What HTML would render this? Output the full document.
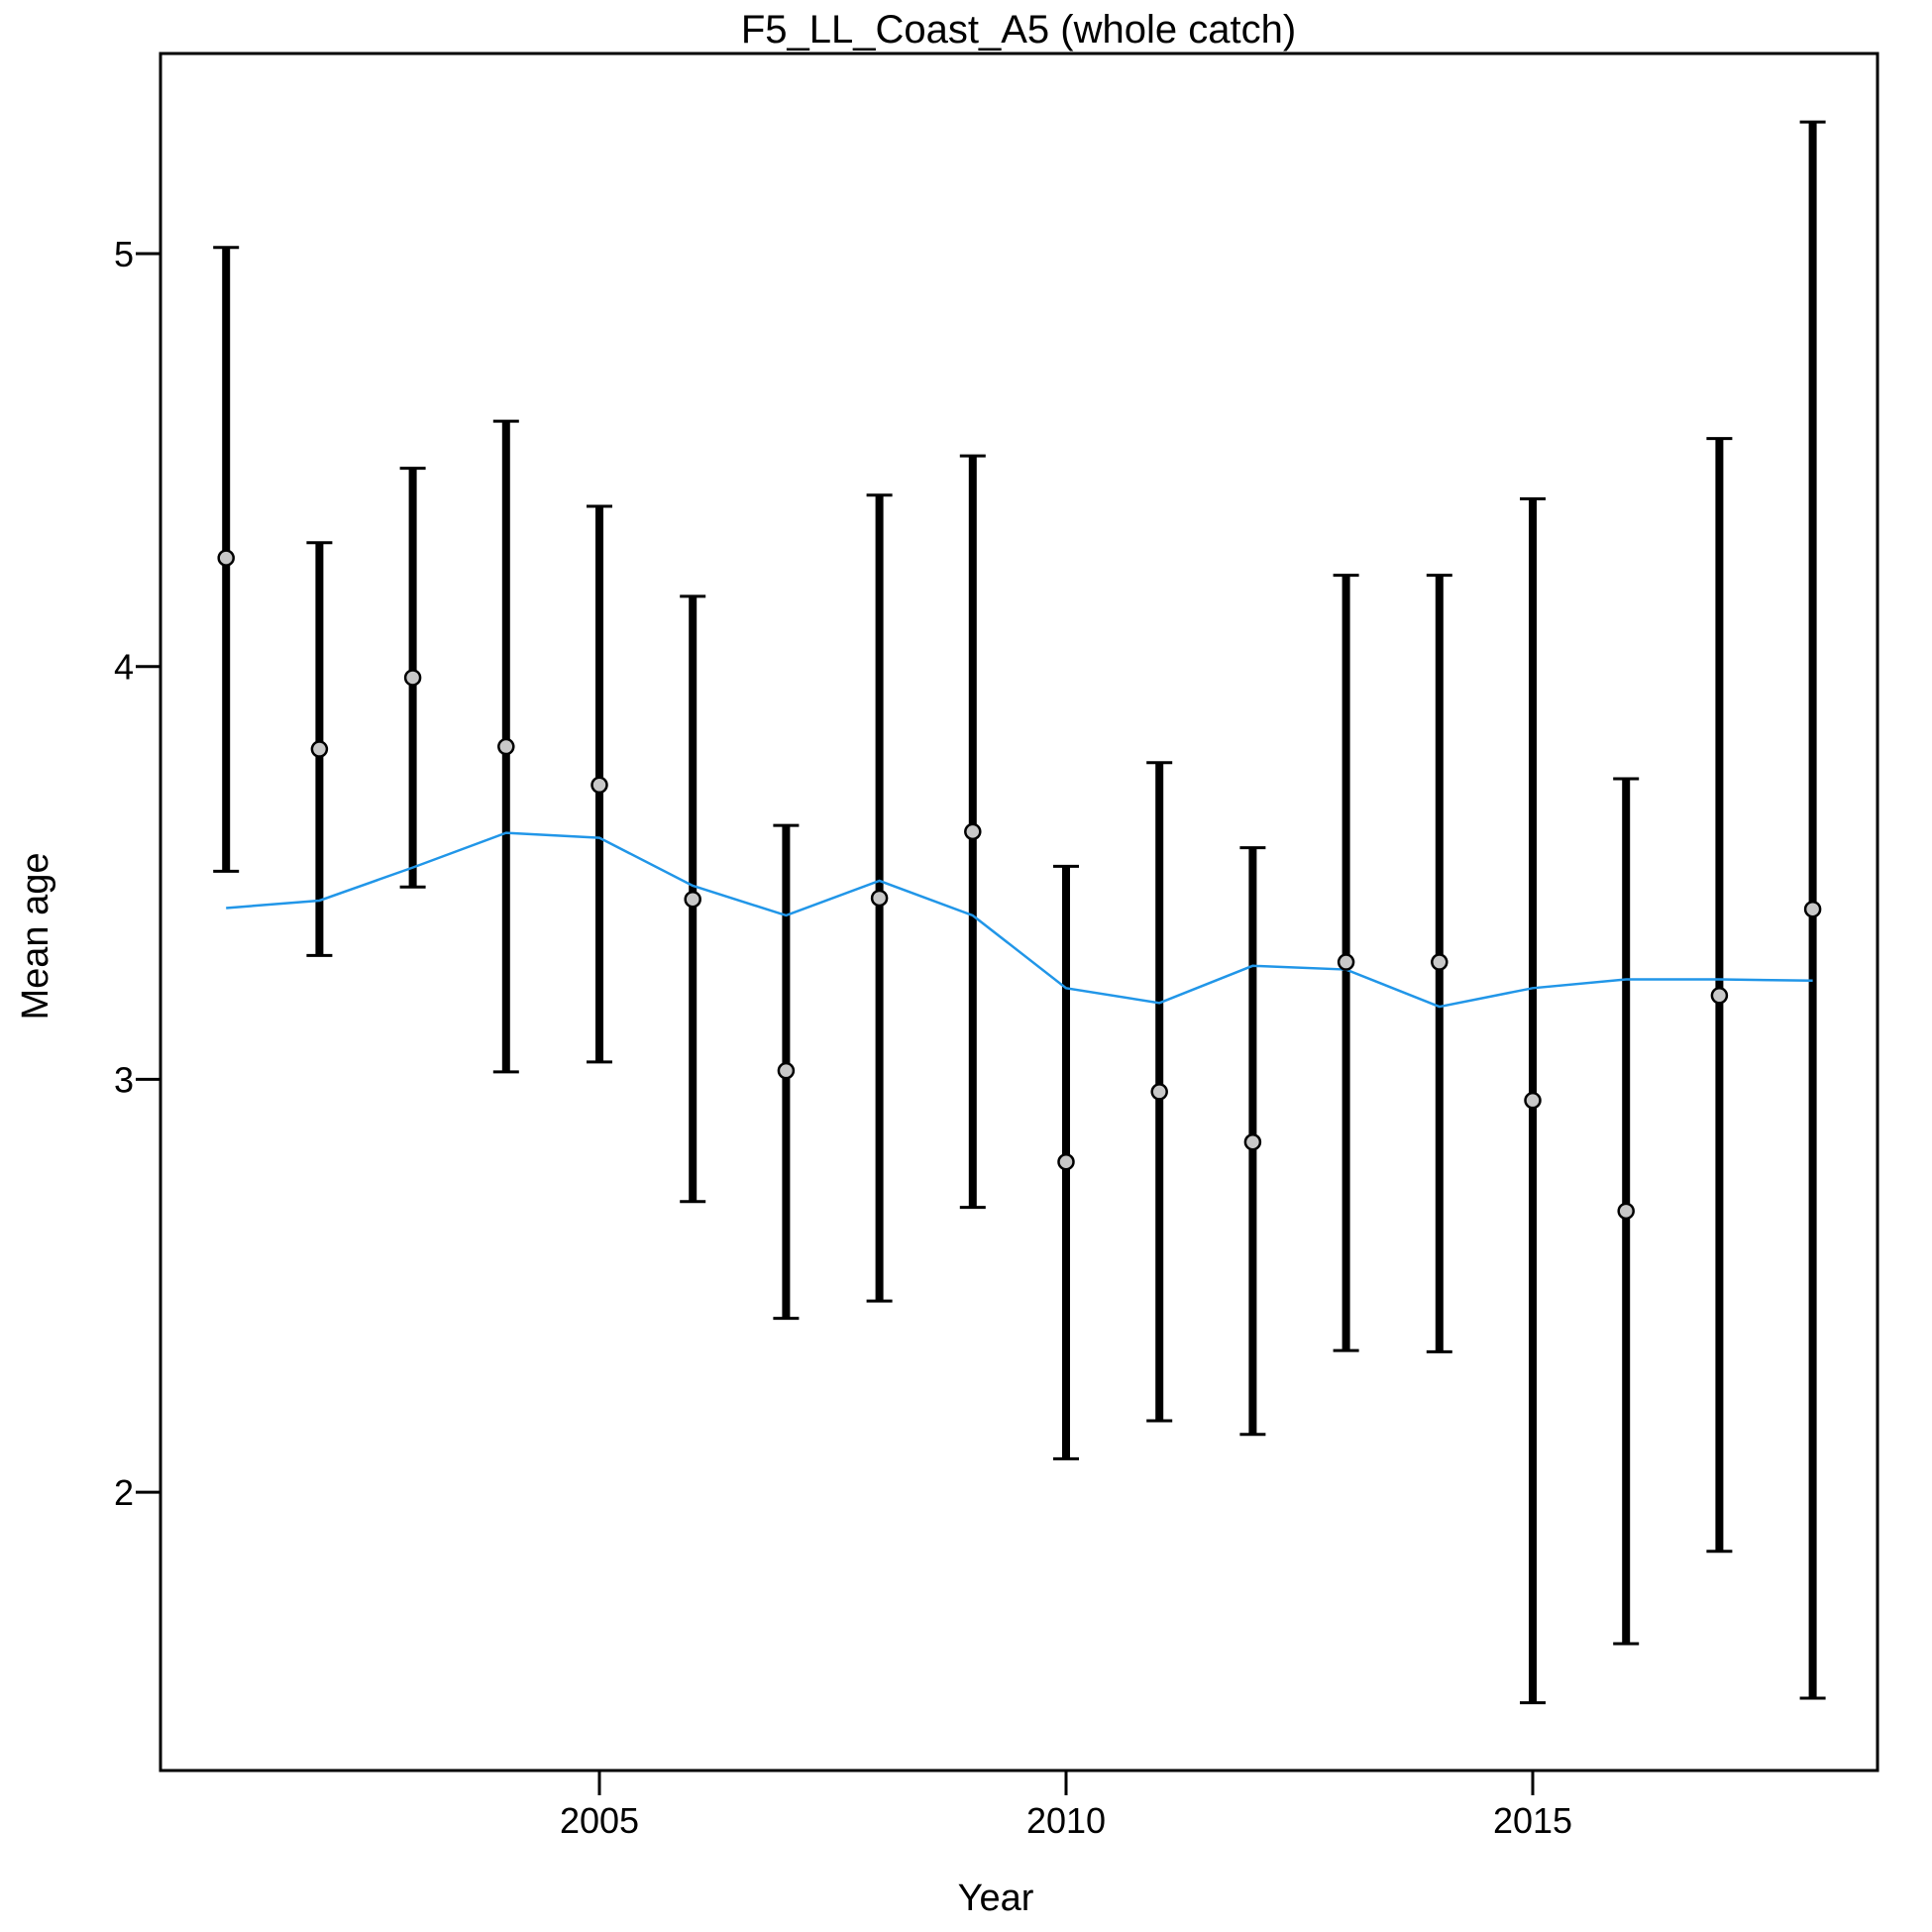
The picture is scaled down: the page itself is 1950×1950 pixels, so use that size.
<!DOCTYPE html>
<html><head><meta charset="utf-8"><style>
html,body{margin:0;padding:0;background:#fff;}
svg{display:block;font-family:"Liberation Sans",Arial,sans-serif;}
</style></head><body>
<svg id="chart" width="1950" height="1950" viewBox="0 0 1950 1950" xmlns="http://www.w3.org/2000/svg">
<text x="1028" y="43" font-size="40" text-anchor="middle">F5_LL_Coast_A5 (whole catch)</text>
<rect x="162" y="54" width="1733" height="1733" fill="none" stroke="#000" stroke-width="3"/>
<g id="axes"></g>
<g id="bars"></g>
<polyline id="fit" fill="none" stroke="#2196e8" stroke-width="2.5"/>
<g id="pts"></g>
<text x="1005" y="1928" font-size="38" text-anchor="middle">Year</text>
<text x="0" y="0" font-size="38" text-anchor="middle" transform="translate(48,945) rotate(-90)">Mean age</text>
</svg>
<script>
const years=[2001,2002,2003,2004,2005,2006,2007,2008,2009,2010,2011,2012,2013,2014,2015,2016,2017,2018];
const obs=[4.263,3.80,3.973,3.806,3.713,3.436,3.021,3.439,3.60,2.80,2.97,2.848,3.284,3.284,2.949,2.681,3.203,3.412];
const upper=[5.015,4.30,4.48,4.594,4.388,4.17,3.615,4.415,4.51,3.516,3.767,3.561,4.221,4.221,4.406,3.728,4.552,5.319];
const lower=[3.504,3.30,3.466,3.018,3.042,2.704,2.421,2.463,2.69,2.081,2.173,2.140,2.343,2.340,1.490,1.633,1.857,1.501];
const expected=[3.415,3.433,3.513,3.597,3.585,3.469,3.397,3.481,3.397,3.221,3.185,3.275,3.266,3.176,3.221,3.242,3.242,3.239];
const xTicks=[2005,2010,2015];
const yTicks=[2,3,4,5];
const NS="http://www.w3.org/2000/svg";
function X(yr){return 605+(yr-2005)*94.2;}
function Y(v){return 256+(5-v)*416.7;}
function mk(tag,attrs,parent){const e=document.createElementNS(NS,tag);for(const k in attrs)e.setAttribute(k,attrs[k]);parent.appendChild(e);return e;}
const axes=document.getElementById('axes');
xTicks.forEach(t=>{
  const l=mk('line',{x1:X(t),x2:X(t),y1:1787,y2:1812,stroke:'#000','stroke-width':3},axes);
  
  
  const tx=mk('text',{x:X(t),y:1850,'font-size':36,'text-anchor':'middle'},axes);
  
  
  tx.textContent=t;
});
yTicks.forEach(t=>{
  const l=mk('line',{x1:137,x2:162,y1:Y(t),y2:Y(t),stroke:'#000','stroke-width':3},axes);
  
  
  const tx=mk('text',{x:135,y:Y(t)+13,'font-size':36,'text-anchor':'end'},axes);
  
  
  tx.textContent=t;
});
const bars=document.getElementById('bars');
years.forEach((yr,i)=>{
  const x=X(yr);
  const b=mk('line',{x1:x,x2:x,y1:Y(upper[i]),y2:Y(lower[i]),stroke:'#000','stroke-width':8},bars);
  
  
  [upper[i],lower[i]].forEach(v=>{
    const c=mk('line',{x1:x-13,x2:x+13,y1:Y(v),y2:Y(v),stroke:'#000','stroke-width':3},bars);
    
    
  });
});
document.getElementById('fit').setAttribute('points',years.map((yr,i)=>X(yr)+','+Y(expected[i])).join(' '));
const pts=document.getElementById('pts');
years.forEach((yr,i)=>{
  const c=mk('circle',{cx:X(yr),cy:Y(obs[i]),r:7.5,fill:'#c8c8c8',stroke:'#000','stroke-width':2.5},pts);
  
  
});
</script>
</body></html>
